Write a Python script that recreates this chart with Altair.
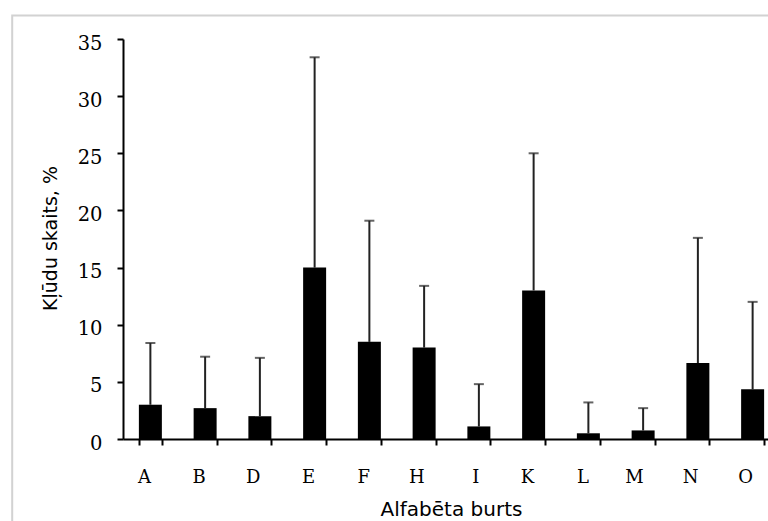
import altair as alt
import pandas as pd

letters = ["A", "B", "D", "E", "F", "H", "I", "K", "L", "M", "N", "O"]
values = [3.0, 2.7, 2.0, 15.0, 8.5, 8.0, 1.1, 13.0, 0.5, 0.75, 6.65, 4.35]
upper = [8.4, 7.2, 7.1, 33.4, 19.1, 13.4, 4.8, 25.0, 3.2, 2.7, 17.6, 12.0]
y_ticks = [0, 5, 10, 15, 20, 25, 30, 35]

df = pd.DataFrame({"burts": letters, "val": values, "upper": upper})

x_enc = alt.X(
    "burts:N",
    sort=letters,
    scale=alt.Scale(range=[0, 657], paddingInner=0.58, paddingOuter=0.29),
    axis=alt.Axis(
        title="Alfabēta burts",
        labelAngle=0,
        labelFont="DejaVu Serif",
        labelFontSize=18,
        labelColor="black",
        labelBaseline="alphabetic",
        labelPadding=37,
        tickBand="extent",
        tickSize=6,
        tickWidth=2,
        tickColor="black",
        domainColor="black",
        domainWidth=2,
        titleFont="DejaVu Sans",
        titleFontSize=20,
        titleFontWeight="normal",
        titleColor="black",
        titleBaseline="alphabetic",
        titleX=328,
        titleY=76,
    ),
)

y_scale = alt.Scale(domain=[0, 35], nice=False)
y_axis = alt.Axis(
    title="Kļūdu skaits, %",
    values=y_ticks,
    grid=False,
    labelFont="DejaVu Serif",
    labelFontSize=19.5,
    labelColor="black",
    labelBaseline="alphabetic",
    labelOffset=10,
    labelPadding=15,
    tickSize=6,
    tickWidth=2,
    tickColor="black",
    domainColor="black",
    domainWidth=2,
    titleFont="DejaVu Sans",
    titleFontSize=19,
    titleFontWeight="normal",
    titleColor="black",
    titleBaseline="alphabetic",
    titleAngle=270,
    titleX=-67,
    titleY=199,
)

base = alt.Chart(df)

bars = base.mark_bar(color="black").encode(
    x=x_enc,
    y=alt.Y("val:Q", scale=y_scale, axis=y_axis),
)

err = base.mark_rule(color="#222222", strokeWidth=2).encode(
    x=alt.X("burts:N", sort=letters),
    y=alt.Y("val:Q"),
    y2=alt.Y2("upper:Q"),
)

caps = base.mark_tick(color="#222222", size=10, thickness=2).encode(
    x=alt.X("burts:N", sort=letters),
    y=alt.Y("upper:Q"),
)

border = alt.Chart(pd.DataFrame({"a": [0]})).mark_rect(
    fill="transparent", stroke="#d2d2d2", strokeWidth=2
).encode(
    x=alt.value(-110.8),
    x2=alt.value(800),
    y=alt.value(-23.5),
    y2=alt.value(600),
)

chart = (
    alt.layer(border, err, bars, caps)
    .properties(
        width=645,
        height=400,
        autosize=alt.AutoSizeParams(type="none"),
        padding={"left": 123, "top": 39, "right": 0, "bottom": 82},
        background="white",
    )
    .configure_view(stroke=None)
)

chart.save("out.html", embed_options={"renderer": "svg", "actions": False})
